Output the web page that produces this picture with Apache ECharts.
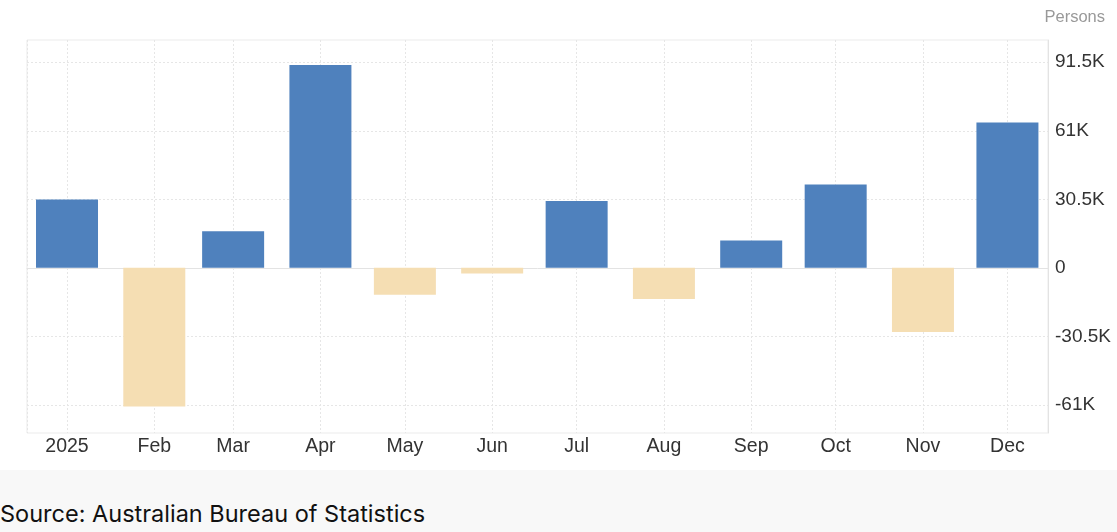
<!DOCTYPE html>
<html>
<head>
<meta charset="utf-8">
<script src="https://cdn.jsdelivr.net/npm/echarts@6/dist/echarts.min.js"></script>
<style>
  html, body { margin: 0; padding: 0; background: #ffffff; }
  #wrap { position: relative; width: 1117px; height: 532px; overflow: hidden; }
  #chart { position: absolute; left: 0; top: 0; width: 1117px; height: 532px; }
  #footer { position: absolute; left: 0; top: 470px; width: 1117px; height: 62px; background: #f8f8f8;
            font-family: Inter, "Noto Sans", sans-serif; font-size: 23.5px; color: #111; }
  #footer span { position: absolute; left: 0; top: 29px; line-height: 30px; white-space: nowrap; }
</style>
</head>
<body>
<div id="wrap">
  <div id="chart"></div>
  <div id="footer"><span>Source: Australian Bureau of Statistics</span></div>
</div>
<script>
// Data (monthly change, persons)
const categories = ['2025-01-01','2025-02-01','2025-03-01','2025-04-01','2025-05-01','2025-06-01',
                    '2025-07-01','2025-08-01','2025-09-01','2025-10-01','2025-11-01','2025-12-01'];
const values = [30400, -61700, 16300, 90300, -12000, -2500, 29800, -13900, 12200, 37100, -28500, 64700];
const yTickValues = [-61000, -30500, 0, 30500, 61000, 91500];
const yTickLabels = ['-61K', '-30.5K', '0', '30.5K', '61K', '91.5K'];
const monthNames = ['Jan','Feb','Mar','Apr','May','Jun','Jul','Aug','Sep','Oct','Nov','Dec'];
const unitLabel = 'Persons';

const DAY = 86400000;
const seriesData = categories.map((c, i) => {
  const v = values[i];
  return { value: [c, v], itemStyle: { color: v >= 0 ? '#4f81bd' : '#f5deb3' } };
});

const chart = echarts.init(document.getElementById('chart'));
const option = {
  backgroundColor: '#ffffff',
  animation: false,
  title: {
    text: unitLabel, right: 7, top: 4,
    textStyle: { fontFamily: 'Liberation Sans, Arial, sans-serif', fontSize: 16.5, fontWeight: 'normal', color: '#999999' }
  },
  grid: {
    left: 27, right: 69, top: 40, bottom: 99,
    show: true, borderColor: '#ebebeb', borderWidth: 1
  },
  xAxis: {
    type: 'time',
    // ECharts pads the extent by half a bar on each side for bar series
    min: new Date(2025, 0, 1).getTime() - 3.2 * DAY,
    max: new Date(2025, 11, 1).getTime() + 3.4 * DAY,
    minInterval: 28 * DAY,
    maxInterval: 31 * DAY,
    axisLine: { show: true, lineStyle: { color: '#e3e3e3' } },
    axisTick: { show: false },
    splitLine: { show: true, lineStyle: { color: '#e6e6e6', type: [2, 2] } },
    axisLabel: {
      color: '#333333', fontSize: 19.5, fontFamily: 'Liberation Sans, Arial, sans-serif', margin: 4,
      formatter: function (val) {
        const d = new Date(val);
        return d.getMonth() === 0 ? String(d.getFullYear()) : monthNames[d.getMonth()];
      }
    }
  },
  yAxis: {
    type: 'value',
    position: 'right',
    min: -73500,
    max: 101400,
    axisLine: { show: true, lineStyle: { color: '#e3e3e3' } },
    axisTick: { show: false, customValues: yTickValues },
    splitLine: { show: true, lineStyle: { color: '#e6e6e6', type: [2, 2] } },
    axisLabel: {
      customValues: yTickValues,
      color: '#333333', fontSize: 19, fontFamily: 'Liberation Sans, Arial, sans-serif', margin: 7,
      formatter: function (val) {
        const idx = yTickValues.indexOf(val);
        return idx >= 0 ? yTickLabels[idx] : '';
      }
    }
  },
  series: [{
    type: 'bar',
    barWidth: 62,
    data: seriesData
  }]
};
chart.setOption(option);
</script>
</body>
</html>
